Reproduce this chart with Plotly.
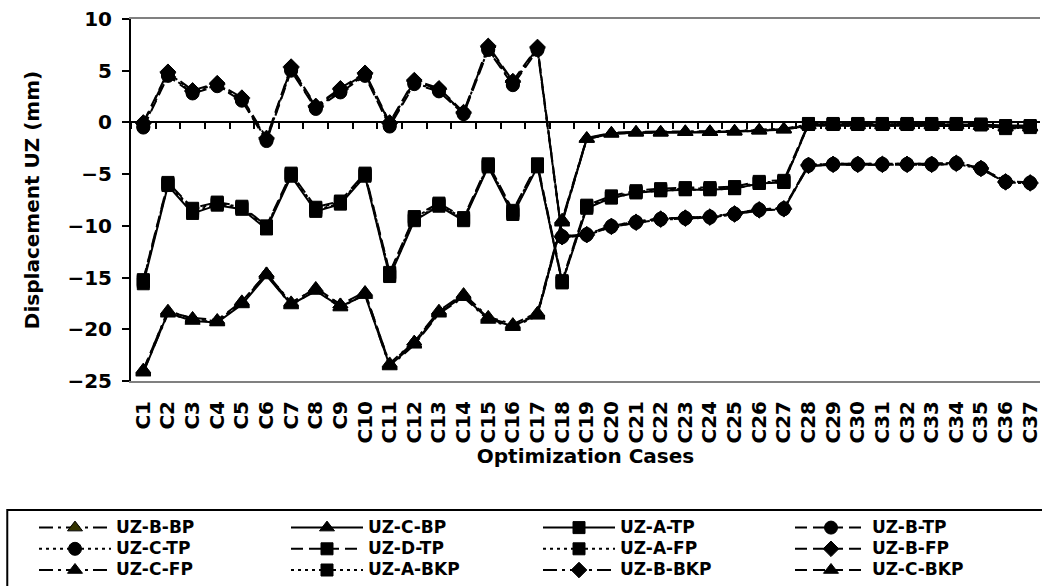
import plotly.graph_objects as go

cases = ["C1", "C2", "C3", "C4", "C5", "C6", "C7", "C8", "C9", "C10",
         "C11", "C12", "C13", "C14", "C15", "C16", "C17", "C18", "C19", "C20",
         "C21", "C22", "C23", "C24", "C25", "C26", "C27", "C28", "C29", "C30",
         "C31", "C32", "C33", "C34", "C35", "C36", "C37"]

y_ticks = [-25, -20, -15, -10, -5, 0, 5, 10]

UZ_B_BP = [-24.0, -18.2, -19.0, -19.2, -17.4, -14.6, -17.4, -16.1, -17.6, -16.5,
           -23.3, -21.2, -18.2, -16.6, -18.8, -19.5, -18.4, -9.4, -1.5, -1.0,
           -0.9, -0.9, -0.85, -0.85, -0.8, -0.7, -0.6, -0.2, -0.2, -0.2,
           -0.2, -0.2, -0.2, -0.2, -0.25, -0.4, -0.4]
UZ_C_BP = [-24.2, -18.4, -19.2, -19.35, -17.6, -14.8, -17.6, -16.3, -17.8, -16.7,
           -23.5, -21.4, -18.4, -16.8, -19.0, -19.7, -18.6, -9.6, -1.6, -1.1,
           -1.0, -1.0, -0.95, -0.95, -0.9, -0.8, -0.7, -0.3, -0.3, -0.3,
           -0.3, -0.3, -0.3, -0.3, -0.35, -0.5, -0.5]
UZ_A_TP = [-15.6, -6.1, -8.8, -8.0, -8.4, -10.3, -5.2, -8.6, -7.9, -5.2,
           -14.9, -9.5, -8.1, -9.5, -4.3, -8.9, -4.3, -15.5, -8.3, -7.3,
           -6.8, -6.6, -6.5, -6.5, -6.4, -5.9, -5.8, -0.2, -0.2, -0.2,
           -0.2, -0.2, -0.2, -0.2, -0.2, -0.3, -0.3]
UZ_B_TP = [-0.5, 4.5, 2.8, 3.5, 2.1, -1.8, 5.0, 1.3, 2.9, 4.5,
           -0.4, 3.7, 3.0, 0.8, 7.0, 3.6, 7.0, -11.1, -10.9, -10.1,
           -9.7, -9.4, -9.3, -9.2, -8.9, -8.5, -8.4, -4.2, -4.1, -4.1,
           -4.1, -4.1, -4.1, -4.0, -4.5, -5.8, -5.9]
UZ_C_TP = [-0.4, 4.6, 2.9, 3.6, 2.2, -1.7, 5.1, 1.4, 3.0, 4.6,
           -0.3, 3.8, 3.1, 0.9, 7.1, 3.7, 7.1, -11.0, -10.8, -10.0,
           -9.6, -9.3, -9.2, -9.1, -8.8, -8.4, -8.3, -4.1, -4.0, -4.0,
           -4.0, -4.0, -4.0, -3.9, -4.4, -5.7, -5.8]
UZ_D_TP = [-15.2, -5.8, -8.3, -7.7, -8.1, -10.0, -4.9, -8.2, -7.6, -4.9,
           -14.5, -9.1, -7.8, -9.2, -4.0, -8.5, -4.0, -15.3, -8.0, -7.1,
           -6.6, -6.4, -6.3, -6.3, -6.2, -5.7, -5.6, -0.1, -0.1, -0.1,
           -0.1, -0.1, -0.1, -0.1, -0.15, -0.6, -0.5]
UZ_A_FP = [-15.3, -5.9, -8.4, -7.8, -8.2, -10.1, -5.0, -8.3, -7.7, -5.0,
           -14.6, -9.2, -7.9, -9.3, -4.1, -8.6, -4.1, -15.4, -8.1, -7.2,
           -6.7, -6.5, -6.4, -6.4, -6.3, -5.8, -5.7, -0.15, -0.15, -0.15,
           -0.15, -0.15, -0.15, -0.15, -0.2, -0.5, -0.4]
UZ_B_FP = [0.0, 4.9, 3.1, 3.8, 2.4, -1.5, 5.4, 1.6, 3.3, 4.8,
           0.0, 4.1, 3.3, 1.0, 7.4, 4.0, 7.3, -11.0, -10.8, -10.0,
           -9.6, -9.3, -9.2, -9.1, -8.8, -8.4, -8.3, -4.1, -4.0, -4.0,
           -4.0, -4.0, -4.0, -3.9, -4.4, -5.7, -5.8]
UZ_C_FP = [-24.1, -18.5, -19.1, -19.3, -17.5, -14.7, -17.7, -16.2, -17.9, -16.6,
           -23.6, -21.5, -18.5, -16.9, -19.1, -19.8, -18.7, -9.7, -1.6, -1.1,
           -1.0, -1.0, -0.95, -0.95, -0.9, -0.8, -0.7, -0.3, -0.3, -0.3,
           -0.3, -0.3, -0.3, -0.3, -0.35, -0.5, -0.5]
UZ_A_BKP = [-15.4, -6.0, -8.6, -7.9, -8.3, -10.2, -5.1, -8.5, -7.8, -5.1,
            -14.8, -9.4, -8.0, -9.4, -4.2, -8.8, -4.2, -15.5, -8.2, -7.3,
            -6.8, -6.6, -6.5, -6.5, -6.4, -5.9, -5.8, -0.2, -0.2, -0.2,
            -0.2, -0.2, -0.2, -0.2, -0.25, -0.4, -0.35]
UZ_B_BKP = [-0.1, 4.8, 3.0, 3.7, 2.3, -1.6, 5.3, 1.5, 3.2, 4.7,
            -0.1, 4.0, 3.2, 0.9, 7.3, 3.9, 7.2, -11.1, -10.9, -10.1,
            -9.7, -9.4, -9.3, -9.2, -8.9, -8.5, -8.4, -4.2, -4.1, -4.1,
            -4.1, -4.1, -4.1, -4.0, -4.5, -5.8, -5.9]
UZ_C_BKP = [-23.9, -18.3, -18.9, -19.1, -17.3, -14.6, -17.5, -16.0, -17.6, -16.4,
            -23.4, -21.2, -18.3, -16.7, -18.9, -19.6, -18.5, -9.5, -1.55, -1.05,
            -0.95, -0.95, -0.9, -0.9, -0.85, -0.75, -0.65, -0.25, -0.25, -0.25,
            -0.25, -0.25, -0.25, -0.25, -0.3, -0.45, -0.45]

DASH = "12px,6px"
DOT = "3px,4px"
LDD = "14px,5px,3px,5px"

# name, values, dash, symbol, fill colour, size
series = [
    ("UZ-B-BP", UZ_B_BP, LDD, "triangle-up", "#333300", 13),
    ("UZ-C-BP", UZ_C_BP, "solid", "triangle-up", "black", 13),
    ("UZ-A-TP", UZ_A_TP, "solid", "square", "black", 12),
    ("UZ-B-TP", UZ_B_TP, DASH, "circle", "black", 13),
    ("UZ-C-TP", UZ_C_TP, DOT, "circle", "black", 13),
    ("UZ-D-TP", UZ_D_TP, DASH, "square", "black", 12),
    ("UZ-A-FP", UZ_A_FP, DOT, "square", "black", 12),
    ("UZ-B-FP", UZ_B_FP, DASH, "diamond", "black", 12),
    ("UZ-C-FP", UZ_C_FP, LDD, "triangle-up", "black", 13),
    ("UZ-A-BKP", UZ_A_BKP, DOT, "square", "black", 12),
    ("UZ-B-BKP", UZ_B_BKP, LDD, "diamond", "black", 12),
    ("UZ-C-BKP", UZ_C_BKP, DASH, "triangle-up", "black", 13),
]

FONT = "DejaVu Sans"

fig = go.Figure()
for name, vals, dash, sym, col, size in series:
    fig.add_trace(go.Scatter(
        x=cases, y=vals, mode="lines+markers",
        name='<span style="font-size:17px">' + name + '</span>',
        line=dict(color="black", width=2, dash=dash),
        marker=dict(symbol=sym, size=size, color=col,
                    line=dict(color="black", width=1)),
    ))

# empty trace that activates the zero-line axis (ticks between cases)
fig.add_trace(go.Scatter(x=[], y=[], xaxis="x2", yaxis="y",
                         showlegend=False, hoverinfo="skip"))

# pixel -> paper helpers for the plot area (l=131, width 911, top 19, height 362)
L, W, T, H = 131, 911, 19, 362
def px(xp):
    return (xp - L) / W
def py(yp):
    return (T + H - yp) / H

x_hi = -0.5 + W / 24.69

fig.update_layout(
    width=1042, height=586, autosize=False,
    margin=dict(l=L, r=1042 - L - W, t=T, b=586 - T - H, pad=0),
    paper_bgcolor="white", plot_bgcolor="white",
    font=dict(family=FONT, size=20, color="black", weight="bold"),
    showlegend=True,
    legend=dict(
        orientation="h", x=px(36), xanchor="left", y=py(512.2), yanchor="top",
        font=dict(family=FONT, size=14, color="black", weight="bold"),
        itemwidth=72, entrywidth=165, entrywidthmode="pixels",
        bgcolor="rgba(0,0,0,0)", borderwidth=0, traceorder="normal",
        itemclick=False, itemdoubleclick=False,
    ),
    xaxis=dict(
        type="category", range=[-0.5, x_hi],
        showline=True, linecolor="#808080", linewidth=2, mirror=True,
        ticks="", tickangle=-90, showgrid=False, zeroline=False,
        tickfont=dict(family=FONT, size=20, color="black", weight="bold"),
        ticklabelstandoff=10,
        title=dict(text="Optimization Cases", standoff=3,
                   font=dict(family=FONT, size=20, color="black", weight="bold")),
    ),
    xaxis2=dict(
        overlaying="x", anchor="free", position=25 / 35, side="bottom",
        range=[-0.5, x_hi], tick0=0.5, dtick=1, ticks="outside",
        ticklen=6, tickwidth=2, tickcolor="black",
        showticklabels=False, showline=True, linecolor="black", linewidth=2,
        showgrid=False, zeroline=False,
    ),
    yaxis=dict(
        range=[-25, 10], tickvals=y_ticks, ticks="outside", ticklen=7,
        tickwidth=2, tickcolor="black", showline=True, linecolor="black",
        linewidth=2, showgrid=False, zeroline=False,
        tickfont=dict(family=FONT, size=20, color="black", weight="bold"),
        ticklabelstandoff=6,
        title=dict(text="Displacement UZ (mm)", standoff=22,
                   font=dict(family=FONT, size=20, color="black", weight="bold")),
    ),
    shapes=[dict(type="rect", xref="paper", yref="paper",
                 x0=px(7), x1=px(1070), y0=py(510), y1=py(620),
                 line=dict(color="black", width=2), fillcolor="rgba(0,0,0,0)",
                 layer="above")],
)

fig.write_html("out.html")
